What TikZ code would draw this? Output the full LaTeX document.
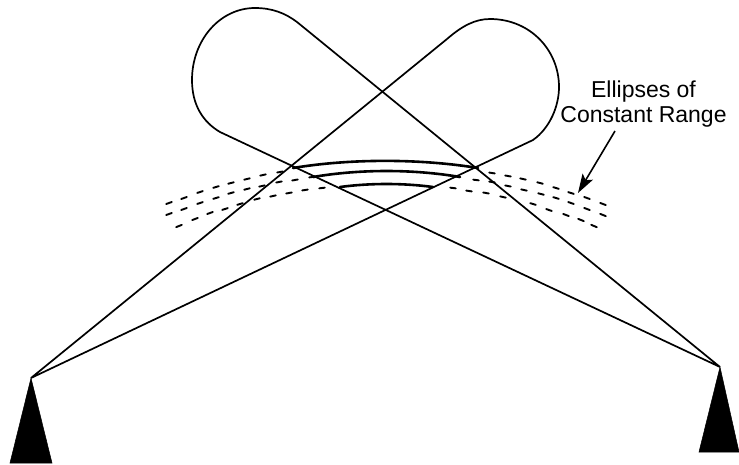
\documentclass[tikz,border=0pt]{standalone}
\usepackage{fontspec}
\setmainfont{Liberation Sans}
\usetikzlibrary{arrows.meta}
\tikzset{
  beam/.style={line width=1.7pt,line join=round},
  rangearc/.style={line width=2.6pt,line cap=round},
  rangedash/.style={line width=1.9pt,line cap=round},
  antenna/.style={fill=black,draw=black,line width=0.5pt},
  pointer/.style={line width=1.6pt,-{Stealth[length=19pt,width=12pt,inset=4pt]}},
  caption/.style={font=\fontsize{23}{25}\selectfont,align=center,inner sep=0pt}
}
\begin{document}
\begin{tikzpicture}[x=1pt,y=-1pt]
\useasboundingbox (0,0) rectangle (739,464);
\coordinate (L) at (31,378);
\coordinate (R) at (720,367);
% antennas
\fill[antenna] (L) -- (52,463) -- (10,463) -- cycle;
\fill[antenna] (R) -- (739,452) -- (699,452) -- cycle;
% left lobe
\draw[beam] (R) -- (297,22) .. controls (285,13) and (272,8) .. (255,8)
  .. controls (220,8) and (192,40) .. (192,80)
  .. controls (192,105) and (203,122) .. (220,132) -- (R);
% right lobe
\draw[beam] (L) -- (447,39) .. controls (462,26) and (475,19) .. (490,19)
  .. controls (530,19) and (559,50) .. (559,87)
  .. controls (559,106) and (550,128) .. (533,140) -- (L);
% solid range arcs
\draw[rangearc] (293,168) .. controls (350,158.5) and (420,158.5) .. (478,168);
\draw[rangearc] (313,177) .. controls (360,169) and (413,169) .. (460,177);
\draw[rangearc] (340,187) .. controls (370,183) and (403,183) .. (433,187);
% dashed continuations: x / y / slope
\foreach \x/\y/\s in {
 169/203/-.36,184/198/-.36,200/192/-.33,216/187/-.3,231/183/-.26,247/179/-.24,263/175/-.22,280/172/-.18,
 169/214/-.36,184/209/-.36,200/203/-.33,216/198/-.3,231/193/-.28,247/189/-.26,262/186/-.22,279/182/-.2,295/180/-.18,312/177/-.15,
 179/226/-.4,195/219/-.38,210/213/-.36,225/209/-.32,240/204/-.3,257/199/-.25,273/196/-.22,289/193/-.18,305/190/-.15,322/188/-.12,
 492/173/.15,508/176/.18,523/179/.22,540/183/.26,556/188/.3,571/193/.32,587/198/.36,603/204/.38,
 476/180/.12,492/182/.15,508/186/.2,524/190/.22,541/194/.26,556/198/.3,571/203/.34,587/209/.38,603/215/.4,
 453/188/.12,469/191/.15,486/193/.18,503/197/.22,533/204/.3,549/210/.34,566/215/.38,581/220/.4,594/226/.42}
  \draw[rangedash] ({\x-2.8},{\y-2.8*\s}) -- ({\x+2.8},{\y+2.8*\s});
% label
\node[caption] (lab) at (643.5,104) {Ellipses of\\Constant Range};
\coordinate (tail) at (615,131);
\coordinate (tip) at (578,193);
\draw[pointer] (tail) -- (tip);
\end{tikzpicture}
\end{document}
